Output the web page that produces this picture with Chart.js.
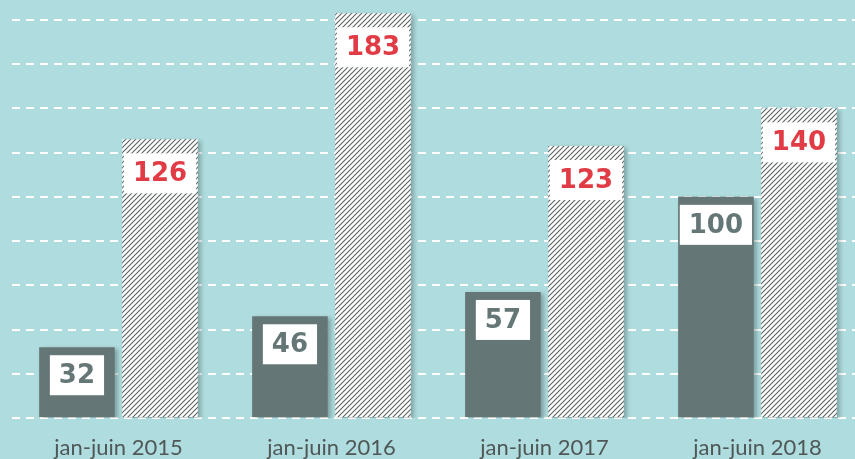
<!DOCTYPE html>
<html>
<head>
<meta charset="utf-8">
<script src="https://cdn.jsdelivr.net/npm/chart.js@4"></script>
<style>
  html, body { margin: 0; padding: 0; background: #afdcde; }
  #wrap { width: 855px; height: 459px; }
</style>
</head>
<body>
<div id="wrap"><canvas id="barChart"></canvas></div>
<script>
const categories = ['jan-juin 2015', 'jan-juin 2016', 'jan-juin 2017', 'jan-juin 2018'];
const grayValues = [32, 46, 57, 100];
const hatchValues = [126, 183, 123, 140];
const gridTicks = [0, 20, 40, 60, 80, 100, 120, 140, 160, 180];

const grayColor = '#657676';
const redColor = '#e13c45';

// motif hachuré
function makeHatch() {
  const c = document.createElement('canvas');
  c.width = 5; c.height = 5;
  const g = c.getContext('2d');
  g.fillStyle = '#ffffff';
  g.fillRect(0, 0, 5, 5);
  g.strokeStyle = '#5a6262';
  g.lineWidth = 1.1;
  g.beginPath();
  g.moveTo(-1, 6); g.lineTo(6, -1);
  g.moveTo(-1, 1); g.lineTo(1, -1);
  g.moveTo(4, 6); g.lineTo(6, 4);
  g.stroke();
  return g.createPattern(c, 'repeat');
}

const shadowPlugin = {
  id: 'shadow',
  beforeDatasetsDraw(chart) {
    const ctx = chart.ctx;
    ctx.save();
    ctx.shadowColor = 'rgba(40,60,60,0.35)';
    ctx.shadowOffsetX = 3;
    ctx.shadowOffsetY = 2;
    ctx.shadowBlur = 4;
  },
  afterDatasetsDraw(chart) {
    chart.ctx.restore();
  }
};

// étiquettes dans des boîtes blanches
const boxLabels = {
  id: 'boxLabels',
  afterDraw(chart) {
    const ctx = chart.ctx;
    ctx.save();
    ctx.font = 'bold 26px "DejaVu Sans"';
    ctx.textAlign = 'center';
    ctx.textBaseline = 'middle';
    chart.data.datasets.forEach((ds, di) => {
      const meta = chart.getDatasetMeta(di);
      meta.data.forEach((bar, i) => {
        const txt = String(ds.data[i].y);
        const w = ctx.measureText(txt).width + 18;
        const h = 40;
        const top = bar.y + (di === 0 ? 8 : 14);
        ctx.fillStyle = '#ffffff';
        ctx.fillRect(bar.x - w / 2, top, w, h);
        ctx.fillStyle = di === 0 ? grayColor : redColor;
        ctx.fillText(txt, bar.x, top + h / 2 + 1);
      });
    });
    ctx.restore();
  }
};

const ctx = document.getElementById('barChart').getContext('2d');
const chart = new Chart(ctx, {
  type: 'bar',
  data: {
    datasets: [{
      data: grayValues.map((v, i) => ({ x: i, y: v })),
      backgroundColor: grayColor
    }, {
      data: hatchValues.map((v, i) => ({ x: i, y: v })),
      backgroundColor: makeHatch()
    }]
  },
  options: {
    responsive: true,
    maintainAspectRatio: false,
    animation: false,
    categoryPercentage: 0.78,
    barPercentage: 0.91,
    layout: { padding: { left: 12, right: 0, top: 0, bottom: 0 } },
    plugins: {
      legend: { display: false },
      tooltip: { enabled: false }
    },
    scales: {
      x: {
        type: 'linear',
        offset: false,
        min: -0.5,
        max: 3.458,
        afterBuildTicks: s => { s.ticks = categories.map((_, i) => ({ value: i })); },
        afterFit: s => { s.height = 41; },
        grid: { display: false, offset: false, drawTicks: false },
        border: { display: false },
        ticks: {
          padding: 17,
          color: '#4f5757',
          font: { family: 'Lato', size: 22 },
          callback: v => categories[v]
        }
      },
      y: {
        min: 0,
        max: 189,
        afterBuildTicks: s => { s.ticks = gridTicks.map(v => ({ value: v })); },
        ticks: { display: false },
        grid: { color: '#ffffff', lineWidth: 2, drawTicks: false },
        border: { display: false, dash: [8, 6] }
      }
    }
  },
  plugins: [shadowPlugin, boxLabels]
});
</script>
</body>
</html>
